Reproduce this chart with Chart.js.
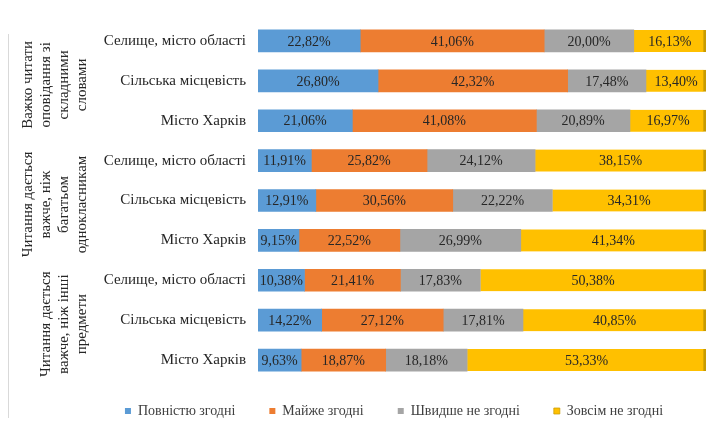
<!DOCTYPE html>
<html>
<head>
<meta charset="utf-8">
<script src="https://cdn.jsdelivr.net/npm/chart.js@4/dist/chart.umd.min.js"></script>
<style>
  html, body { margin: 0; padding: 0; background: #fff; }
  #wrap { width: 718px; height: 428px; position: relative; }
</style>
</head>
<body>
<div id="wrap"><canvas id="chart"></canvas></div>
<script>
// rows, top to bottom
var categories = [
  'Селище, місто області', 'Сільська місцевість', 'Місто Харків',
  'Селище, місто області', 'Сільська місцевість', 'Місто Харків',
  'Селище, місто області', 'Сільська місцевість', 'Місто Харків'
];
// group captions (lines), each covers 3 rows
var groupLines = [
  ['Важко читати', 'оповідання зі', 'складними', 'словами'],
  ['Читання дається', 'важче, ніж', 'багатьом', 'однокласникам'],
  ['Читання дається', 'важче, ніж інші', 'предмети']
];
var seriesNames = ['Повністю згодні', 'Майже згодні', 'Швидше не згодні', 'Зовсім не згодні'];
var fullyAgree     = [22.82, 26.80, 21.06, 11.91, 12.91, 9.15, 10.38, 14.22, 9.63];
var mostlyAgree    = [41.06, 42.32, 41.08, 25.82, 30.56, 22.52, 21.41, 27.12, 18.87];
var ratherDisagree = [20.00, 17.48, 20.89, 24.12, 22.22, 26.99, 17.83, 17.81, 18.18];
var fullyDisagree  = [16.13, 13.40, 16.97, 38.15, 34.31, 41.34, 50.38, 40.85, 53.33];

var colors = ['#5B9BD5', '#ED7D31', '#A5A5A5', '#FFC000'];
var serif = '"Liberation Serif", "DejaVu Serif", serif';

function fmt(v) {
  return v.toFixed(2).replace('.', ',') + '%';
}

// values written in the middle of each segment
var valueLabels = {
  id: 'valueLabels',
  afterDatasetsDraw: function(chart) {
    var ctx = chart.ctx;
    ctx.save();
    ctx.font = '14px ' + serif;
    ctx.fillStyle = '#262626';
    ctx.textAlign = 'center';
    ctx.textBaseline = 'middle';
    chart.data.datasets.forEach(function(ds, di) {
      chart.getDatasetMeta(di).data.forEach(function(bar, i) {
        var p = bar.getProps(['x', 'y', 'base'], true);
        ctx.fillText(fmt(ds.data[i]), (p.x + p.base) / 2, p.y + 1);
      });
    });
    ctx.restore();
  }
};

// rotated group captions + left frame line
var groupCaptions = {
  id: 'groupCaptions',
  afterDraw: function(chart) {
    var ctx = chart.ctx;
    var y = chart.scales.y;
    ctx.save();
    ctx.strokeStyle = '#d9d9d9';
    ctx.lineWidth = 1;
    ctx.beginPath();
    ctx.moveTo(8.5, 34);
    ctx.lineTo(8.5, 418);
    ctx.stroke();

    ctx.font = '15px ' + serif;
    ctx.fillStyle = '#262626';
    ctx.textAlign = 'center';
    ctx.textBaseline = 'middle';
    groupLines.forEach(function(lines, g) {
      var yc = y.getPixelForValue(g * 3 + 1) + 4;
      var n = lines.length;
      lines.forEach(function(line, k) {
        var x = 82 - (n - 1 - k) * 18;
        ctx.save();
        ctx.translate(x, yc);
        ctx.rotate(-Math.PI / 2);
        ctx.fillText(line, 0, 0);
        ctx.restore();
      });
    });
    ctx.restore();
  }
};

// keep the legend short so the plot keeps its height, then place it under the plot
var legendFix = {
  id: 'legendFix',
  beforeLayout: function(chart) {
    var lg = chart.legend;
    if (lg && !lg._fixed) {
      var fit = lg.fit;
      lg.fit = function() { fit.call(this); this.height = 48; };
      lg._fixed = true;
    }
  },
  afterLayout: function(chart) {
    var lg = chart.legend;
    if (!lg) return;
    lg.top = 370;
    lg.bottom = 428;
    lg.left += 36;
    lg.right += 36;
  }
};

var allSeries = [fullyAgree, mostlyAgree, ratherDisagree, fullyDisagree];

new Chart(document.getElementById('chart'), {
  type: 'bar',
  data: {
    labels: categories,
    datasets: allSeries.map(function(d, i) {
      return {
        label: seriesNames[i],
        data: d,
        backgroundColor: colors[i],
        borderWidth: i === 3 ? { top: 0, right: 3, bottom: 0, left: 0 } : 0,
        borderColor: '#C89B00',
        borderSkipped: false,
        barThickness: 22
      };
    })
  },
  options: {
    indexAxis: 'y',
    responsive: true,
    maintainAspectRatio: false,
    animation: false,
    layout: { padding: { left: 10, right: 12, top: 20, bottom: 0 } },
    plugins: {
      legend: {
        position: 'bottom',
        labels: {
          font: { family: serif, size: 14 },
          color: '#404040',
          boxWidth: 6,
          boxHeight: 6,
          padding: 34
        }
      },
      tooltip: { enabled: false }
    },
    scales: {
      x: {
        stacked: true,
        min: 0,
        max: 100,
        display: false
      },
      y: {
        stacked: true,
        grid: { display: false, drawTicks: false },
        border: { display: false },
        ticks: {
          font: { family: serif, size: 15 },
          color: '#262626',
          padding: 12
        },
        afterFit: function(scale) { scale.width = 248; }
      }
    }
  },
  plugins: [valueLabels, groupCaptions, legendFix]
});
</script>
</body>
</html>
